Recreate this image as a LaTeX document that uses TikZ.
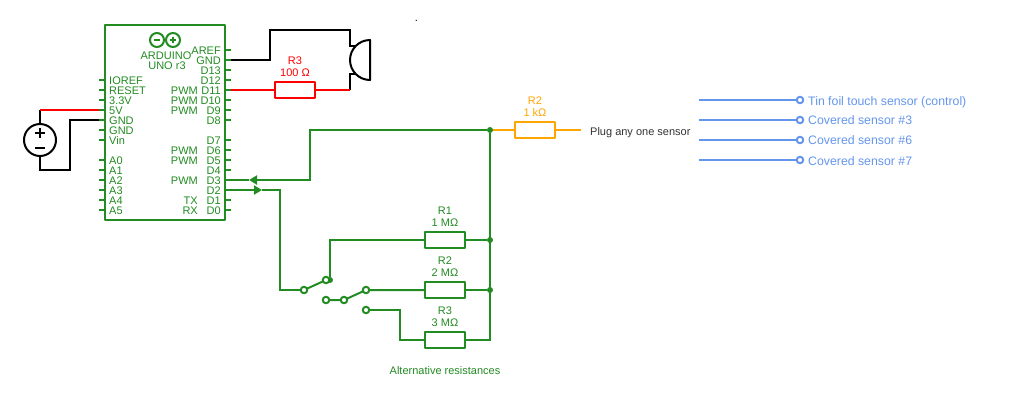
\documentclass[tikz,border=0pt]{standalone}
\usepackage{fontspec}
\setmainfont{Liberation Sans}
\usetikzlibrary{arrows.meta}
\definecolor{wiregreen}{HTML}{228B22}
\definecolor{wireorange}{HTML}{FFA500}
\definecolor{wireblue}{HTML}{6495ED}
\definecolor{wiregray}{HTML}{333333}
\tikzset{
	wire/.style={line width=2pt,line cap=butt,line join=miter},
	resistor/.style={draw,fill=white,line width=2pt,minimum width=40pt,minimum height=16pt,inner sep=0pt,outer sep=0pt},
	rlabel/.style={inner sep=0pt,anchor=base,align=center},
	pinlabel/.style={inner sep=0pt,text=wiregreen},
	terminal/.style={circle,draw=#1,fill=white,line width=2pt,minimum size=6.5pt,inner sep=0pt,outer sep=0pt},
	joint/.style={circle,fill,minimum size=6pt,inner sep=0pt,outer sep=0pt},
	gridtip/.style={-{Triangle[length=8pt,width=9pt]}}
}
\begin{document}
\begin{tikzpicture}[x=1pt,y=-1pt,font=\fontsize{11}{13}\selectfont,line join=round]
	\useasboundingbox (0,0) rectangle (1020,400);
	% Board
	\foreach \yy/\lab in {80/IOREF,90/RESET,100/3.3V,110/5V,120/GND,130/GND,140/Vin,160/A0,170/A1,180/A2,190/A3,200/A4,210/A5}{
		\draw[wire,wiregreen] (105,\yy) -- (99,\yy) coordinate (pl\yy);
		\node[pinlabel,anchor=base west] (ll\yy) at (109,\yy+4) {\lab};
	}
	\foreach \yy/\lab in {50/AREF,60/GND,70/D13,80/D12,90/D11,100/D10,110/D9,120/D8,140/D7,150/D6,160/D5,170/D4,180/D3,190/D2,200/D1,210/D0}{
		\draw[wire,wiregreen] (225,\yy) -- (231,\yy) coordinate (pr\yy);
		\node[pinlabel,anchor=base east] (lr\yy) at (221,\yy+4) {\lab};
	}
	\foreach \yy/\lab in {90/PWM,100/PWM,110/PWM,150/PWM,160/PWM,180/PWM,200/TX,210/RX}{
		\node[pinlabel,anchor=base east] (lf\yy) at (198,\yy+4) {\lab};
	}
	\node[draw=wiregreen,line width=2pt,minimum width=120pt,minimum height=195pt,inner sep=0pt,outer sep=0pt] (board) at (165,122.5) {};
	\node[pinlabel,anchor=base] (lboard) at (166,59) {ARDUINO};
	\node[pinlabel,anchor=base] (luno) at (167,69) {UNO r3};
	\draw[wiregreen,line width=2pt] (157,40) circle (7) (173,40) circle (7);
	\draw[wiregreen,line width=1.5pt] (154,40) -- (160,40) (170,40) -- (176,40) (173,37) -- (173,43);
	\node[inner sep=0pt] (speck) at (416.5,20.5) {.};
	% Supply
	\node[circle,draw,line width=2pt,minimum size=32pt,inner sep=0pt,outer sep=0pt] (bat) at (40,140) {};
	\draw[line width=2pt] (35,133) -- (45,133) (40,128) -- (40,138) (35,148) -- (45,148);
	\coordinate (batup) at (40,110);
	\coordinate (batdown) at (40,170);
	\coordinate (batmid) at (70,170);
	\draw[wire] (bat.north) -- (batup);
	\draw[wire,red] (batup) -- (pl110);
	\draw[wire] (bat.south) -- (batdown) -- (batmid) |- (pl120);
	% Speaker
	\node[resistor,draw=red] (Rs) at (295,90) {};
	\node[rlabel,text=red] (Rsname) at (295,64) {R3};
	\node[rlabel,text=red] (Rsval) at (295,76) {100 Ω};
	\coordinate (spktop) at (350,46);
	\coordinate (spkbot) at (350,73.5);
	\coordinate (spkwire) at (350,90);
	\draw[line width=2pt] (370,40) arc[start angle=-90,end angle=-270,radius=20] -- cycle;
	\draw[wire] (pr60) -- (270,60) -- (270,30) -- (350,30) -- (spktop) -- (356,46);
	\draw[wire] (spkwire) -- (spkbot) -- (356,73.5);
	\draw[wire,red] (pr90) -- (Rs.west) (Rs.east) -- (spkwire);
	% Feedback loop
	\node[resistor,draw=wireorange] (Rk) at (535,130) {};
	\node[rlabel,text=wireorange] (Rkname) at (535,104) {R2};
	\node[rlabel,text=wireorange] (Rkval) at (535,116) {1 kΩ};
	\node[inner sep=0pt,anchor=base west,text=wiregray] (plug) at (590,135) {Plug any one sensor};
	\coordinate (Rkend) at (581,130);
	\coordinate (tipout) at (249,180);
	\coordinate (tipin) at (262,190);
	\foreach \yy/\nm/\val/\lab in {240/Ra/1 MΩ/R1,290/Rb/2 MΩ/R2,340/Rc/3 MΩ/R3}{
		\node[resistor,draw=wiregreen] (\nm) at (445,\yy) {};
		\node[rlabel,text=wiregreen] (\nm name) at (445,\yy-26) {\lab};
		\node[rlabel,text=wiregreen] (\nm val) at (445,\yy-14) {\val};
	}
	\node[joint,wiregreen] (top) at (490,130) {};
	\node[joint,wiregreen] (ja) at (490,240) {};
	\node[joint,wiregreen] (jb) at (490,290) {};
	\node[joint,wiregreen] (ka) at (330,280) {};
	\coordinate (jc) at (490,340);
	\draw[wire,wiregreen] (pr180) -- (tipout);
	\draw[wire,wiregreen,gridtip] (top) -| (310,180) -- (tipout);
	\draw[wire,wiregreen,gridtip] (pr190) -- (tipin);
	\draw[wire,wireorange] (top) -- (Rk.west) (Rk.east) -- (Rkend);
	\draw[wire,wiregreen] (top) -- (jc) -- (Rc.east);
	\draw[wire,wiregreen] (Ra.east) -- (ja) (Rb.east) -- (jb);
	% Switches
	\draw[wire,wiregreen] (tipin) -- (280,190) |- (304,290);
	\draw[wire,wiregreen] (304,290) -- (326,280) (326,300) -- (344,300) -- (366,290) -- (Rb.west);
	\draw[wire,wiregreen] (ka) |- (Ra.west);
	\draw[wire,wiregreen] (366,310) -- (400,310) |- (Rc.west);
	\node[terminal=wiregreen] (swa) at (304,290) {};
	\node[terminal=wiregreen] (swb) at (326,280) {};
	\node[terminal=wiregreen] (swc) at (326,300) {};
	\node[terminal=wiregreen] (swd) at (344,300) {};
	\node[terminal=wiregreen] (swe) at (366,290) {};
	\node[terminal=wiregreen] (swf) at (366,310) {};
	\node[inner sep=0pt,anchor=base,text=wiregreen] (alt) at (445,374) {Alternative resistances};
	% Sensors
	\foreach \yy/\bl/\lab in {100/105.5/Tin foil touch sensor (control),120/124.5/Covered sensor \#3,140/144.5/Covered sensor \#6,160/165/Covered sensor \#7}{
		\coordinate (sb\yy) at (699,\yy);
		\draw[wire,wireblue] (sb\yy) -- (797,\yy);
		\node[terminal=wireblue] (st\yy) at (800,\yy) {};
		\node[inner sep=0pt,anchor=base west,text=wireblue,font=\fontsize{12.3}{14}\selectfont] (sl\yy) at (808,\bl) {\lab};
	}
\end{tikzpicture}
\end{document}
